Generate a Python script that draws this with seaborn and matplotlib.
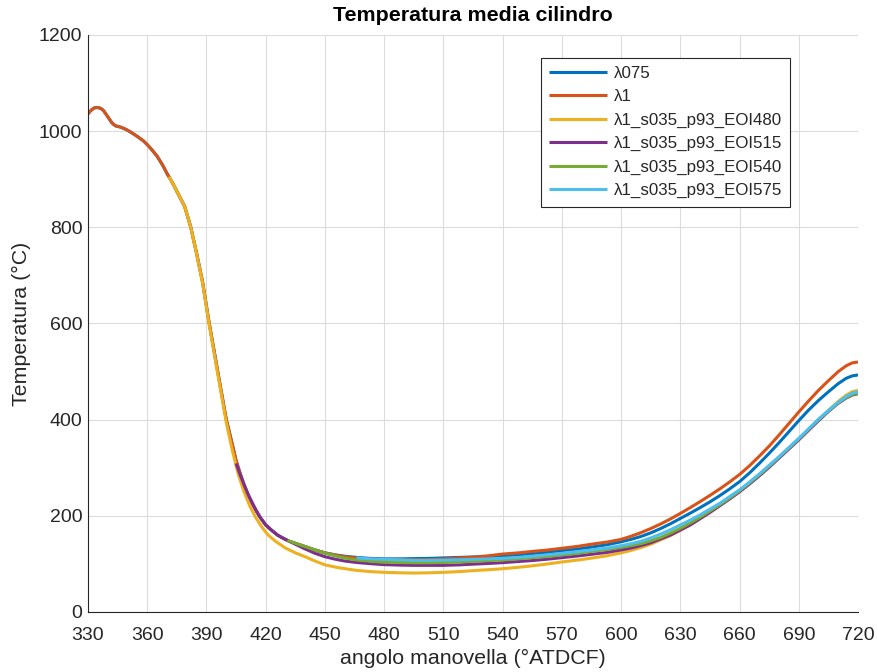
import numpy as np
import pandas as pd
import matplotlib
matplotlib.use("Agg")
import matplotlib.pyplot as plt
import seaborn as sns

# Series names (legend order)
series_names = [
    "λ075",
    "λ1",
    "λ1_s035_p93_EOI480",
    "λ1_s035_p93_EOI515",
    "λ1_s035_p93_EOI540",
    "λ1_s035_p93_EOI575",
]
series_colors = ["#0072BD", "#D95319", "#EDB120", "#7E2F8E", "#77AC30", "#4DBEEE"]

# Crank angle (°ATDCF) and mean cylinder temperature (°C)
ang_lam1 = [330, 331, 332, 333, 334, 335, 336, 337, 338, 339, 340, 341, 342, 343,
            344, 345, 346, 348, 350, 352, 355, 358, 360, 362, 365, 368, 370,
            373, 376, 379, 382, 385, 388, 391, 394, 397, 400, 403, 405, 407,
            409, 411, 413, 415, 417, 420, 423, 426, 429, 432, 436, 440, 445,
            450, 455, 460, 466, 473, 480, 488, 495, 503, 510, 518, 525, 533,
            540, 548, 555, 563, 570, 578, 585, 593, 600, 605, 610, 615, 620,
            625, 630, 635, 640, 645, 650, 655, 660, 665, 670, 675, 680, 685,
            690, 695, 700, 705, 710, 714, 717, 720]
temp_lam1 = [1036, 1041, 1045, 1048, 1049, 1049, 1048, 1046, 1042, 1036, 1030, 1024, 1018, 1014,
             1011, 1010, 1009, 1006, 1002, 997, 989, 980, 972, 963, 948, 928, 912,
             891, 867, 843, 801, 746, 687, 610, 540, 470, 401, 350, 315, 289,
             265, 245, 228, 212, 198, 181, 170, 160, 153, 147, 141.5, 136, 129,
             123, 118.5, 115, 112, 110, 109, 108.5, 108.5, 109, 110, 112, 114, 117,
             120.5, 123, 126, 129, 132.5, 136.5, 141, 145.5, 151, 157.5, 165, 173.5, 183,
             193.5, 205, 217, 229.5, 242.5, 256, 270.5, 286, 304, 324, 345, 368, 392,
             416, 439, 461, 481, 500, 512, 518, 520]

ang_lam075 = ang_lam1
temp_lam075 = [1036, 1041, 1045, 1048, 1049, 1049, 1048, 1046, 1042, 1036, 1030, 1024, 1018, 1014,
               1011, 1010, 1009, 1006, 1002, 997, 989, 980, 972, 963, 948, 928, 912,
               891, 867, 843, 801, 746, 687, 610, 540, 470, 401, 350, 315, 289,
               265, 245, 228, 212, 198, 181, 170, 160, 153, 147, 141.5, 136, 129,
               123, 119, 116, 113.5, 111.5, 110.5, 110.5, 111, 111.5, 112.5, 113.5, 114.5, 115.5,
               117, 119, 121.5, 124.5, 127.5, 131, 135, 140, 146, 151, 157, 164.5, 173.5,
               183.5, 194.5, 205.5, 217, 229, 242, 256, 271, 289, 309, 330, 352, 375,
               398, 420, 440, 458, 475, 486, 491, 493]

ang_eoi480 = [371, 373, 376, 379, 382, 385, 388, 391, 394, 397, 400, 403, 406, 409,
              412, 415, 418, 421, 425, 430, 435, 440, 445, 450, 457, 466, 473,
              480, 488, 495, 503, 510, 518, 525, 533, 540, 548, 555, 563, 570,
              578, 585, 593, 600, 605, 610, 615, 620, 625, 630, 635, 640, 645,
              650, 655, 660, 665, 670, 675, 680, 685, 690, 695, 700, 705, 710,
              714, 717, 720]
temp_eoi480 = [905, 891, 867, 843, 801, 745, 685, 607, 535, 465, 395, 338, 288, 250,
               220, 196, 177, 161, 147, 133, 123, 115, 106, 98, 92, 86.5, 84,
               82.5, 81.5, 81, 81.5, 82.5, 84, 86, 88, 90, 93, 96, 100, 104,
               108, 112, 117, 123, 128, 134, 141, 150, 159, 170, 181, 194, 208,
               222, 236, 251, 267, 284, 302, 321, 340, 359, 379, 399, 419, 438,
               451, 458, 461]

ang_eoi515 = [405, 407, 409, 411, 413, 415, 417, 420, 423, 426, 429, 432, 436, 440,
              445, 450, 455, 460, 466, 473, 480, 488, 495, 503, 510, 518, 525,
              533, 540, 548, 555, 563, 570, 578, 585, 593, 600, 605, 610, 615,
              620, 625, 630, 635, 640, 645, 650, 655, 660, 665, 670, 675, 680,
              685, 690, 695, 700, 705, 710, 714, 717, 720]
temp_eoi515 = [309, 286, 265, 245, 228, 212, 198, 181, 170, 160, 153, 147, 139, 131,
               122, 115, 110, 106, 103, 100.5, 98.5, 97.5, 97, 97, 97, 98, 99.5,
               101, 102.6, 105, 107, 110, 113, 116.5, 120, 124, 129, 133, 138, 144,
               152, 160, 170.5, 181, 194, 207, 221, 235, 250, 266, 283, 301, 320,
               339, 358, 378, 398, 417, 434, 445, 451, 454]

ang_eoi540 = [431, 436, 440, 445, 450, 455, 460, 466, 473, 480, 488, 495, 503, 510,
              518, 525, 533, 540, 548, 555, 563, 570, 578, 585, 593, 600, 605,
              610, 615, 620, 625, 630, 635, 640, 645, 650, 655, 660, 665, 670,
              675, 680, 685, 690, 695, 700, 705, 710, 714, 717, 720]
temp_eoi540 = [149, 141.5, 136, 129, 122.5, 117, 112, 108.5, 105.5, 103.5, 103, 102.5, 102.5, 103,
               104, 105.5, 107, 108.2, 110.5, 113, 115.5, 118.6, 122, 126, 130, 134.5, 138,
               142, 148, 155, 164, 174, 185, 197, 210, 223, 237, 252, 268, 285,
               303, 322, 341, 360, 380, 400, 418, 435, 446, 452, 455]

ang_eoi575 = [466, 473, 480, 488, 495, 503, 510, 518, 525, 533, 540, 548, 555, 563,
              570, 578, 585, 593, 600, 605, 610, 615, 620, 625, 630, 635, 640,
              645, 650, 655, 660, 665, 670, 675, 680, 685, 690, 695, 700, 705,
              710, 714, 717, 720]
temp_eoi575 = [112.7, 110.5, 109.5, 108.5, 107.5, 107.5, 108, 108.5, 109.5, 110.5, 111.6, 113.5, 116, 119,
               122, 125.5, 129, 133, 138, 142, 147, 154, 162, 171, 181, 191, 202,
               214, 226, 240, 254, 270, 287, 305, 323, 342, 361, 381, 401, 419,
               436, 448, 455, 458]

angles = [ang_lam075, ang_lam1, ang_eoi480, ang_eoi515, ang_eoi540, ang_eoi575]
temps = [temp_lam075, temp_lam1, temp_eoi480, temp_eoi515, temp_eoi540, temp_eoi575]

df = pd.concat(
    [pd.DataFrame({"angolo": a, "T": t, "caso": n})
     for a, t, n in zip(angles, temps, series_names)],
    ignore_index=True,
)

sns.set_style("white")
plt.rcParams["font.family"] = ["Liberation Sans", "DejaVu Sans"]

fig = plt.figure(figsize=(8.77, 6.72), dpi=100)
ax = fig.add_axes([88 / 877, 1 - 612 / 672, 770 / 877, 577 / 672])

sns.lineplot(
    data=df, x="angolo", y="T", hue="caso", hue_order=series_names,
    palette=series_colors, estimator=None, sort=False, linewidth=2.2,
    legend=False, ax=ax,
)
for ln in ax.lines:
    ln.set_solid_joinstyle("round")
    ln.set_solid_capstyle("butt")

ax.set_xlim(330, 720)
ax.set_ylim(0, 1200)
ax.set_xticks(np.arange(330, 721, 30))
ax.set_yticks(np.arange(0, 1201, 200))
ax.grid(True, color="#dcdcdc", linewidth=0.8)
ax.set_axisbelow(True)

for side in ["top", "right"]:
    ax.spines[side].set_visible(False)
for side in ["left", "bottom"]:
    ax.spines[side].set_color("#262626")
    ax.spines[side].set_linewidth(0.8)

ax.tick_params(axis="both", direction="in", length=5, width=0.8,
               colors="#262626", labelsize=14, labelcolor="#262626")
ax.tick_params(axis="x", pad=10.5)
ax.tick_params(axis="y", pad=4)

ax.set_xlabel("angolo manovella (°ATDCF)", fontsize=15.4, color="#262626", labelpad=4)
ax.set_ylabel("Temperatura (°C)", fontsize=15.4, color="#262626", labelpad=6)
ax.set_title("Temperatura media cilindro", fontsize=15.4, fontweight="bold",
             color="black", pad=10)

leg = ax.legend(ax.lines, series_names, loc="upper left",
                bbox_to_anchor=(0.588, 0.961), fontsize=12.2, frameon=True,
                fancybox=False, edgecolor="#262626", framealpha=1,
                handlelength=3.4, handletextpad=0.4, labelspacing=0.49,
                borderpad=0.5, borderaxespad=0)
leg.get_frame().set_linewidth(0.8)

fig.savefig("out.png", dpi=100)
